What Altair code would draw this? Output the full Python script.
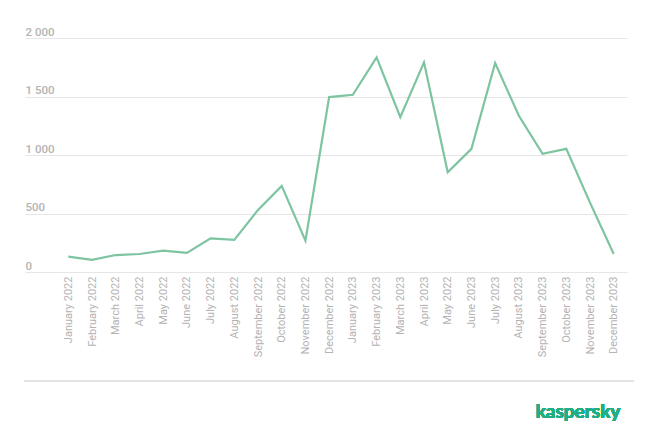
import altair as alt
import pandas as pd

months = [
    "January 2022", "February 2022", "March 2022", "April 2022", "May 2022", "June 2022",
    "July 2022", "August 2022", "September 2022", "October 2022", "November 2022", "December 2022",
    "January 2023", "February 2023", "March 2023", "April 2023", "May 2022", "June 2023",
    "July 2023", "August 2023", "September 2023", "October 2023", "November 2023", "December 2023",
]
values = [131, 103, 145, 154, 182, 163, 288, 274, 531, 736, 268, 1495,
          1515, 1834, 1324, 1792, 853, 1053, 1786, 1335, 1010, 1053, 593, 154]
y_ticks = [0, 500, 1000, 1500, 2000]

df = pd.DataFrame({"idx": list(range(len(months))), "label": months, "value": values})

label_arr = "[" + ",".join("'" + m + "'" for m in months) + "]"

W, H = 602, 234
FONT = "Roboto"
GREY = "#b3b3b3"

base = alt.Chart(df)

line = base.mark_line(color="#7dc4a0", strokeWidth=2.2).encode(
    x=alt.X(
        "idx:Q",
        scale=alt.Scale(domain=[-1.826, 23.56], nice=False, zero=False),
        axis=alt.Axis(
            values=list(range(len(months))),
            labelExpr=label_arr + "[datum.value]",
            labelAngle=-90,
            labelAlign="right",
            labelBaseline="middle",
            labelPadding=4,
            labelOverlap=False,
            labelBound=False,
            labelFlush=False,
            ticks=False,
            domain=False,
            grid=False,
            title=None,
            labelColor=GREY,
            labelFont=FONT,
            labelFontSize=11,
        ),
    ),
    y=alt.Y(
        "value:Q",
        scale=alt.Scale(domain=[0, 2000], nice=False),
        axis=alt.Axis(
            values=y_ticks,
            labelExpr="replace(format(datum.value, ',d'), ',', ' ')",
            labelAlign="left",
            labelBaseline="alphabetic",
            labelOffset=-3,
            labelPadding=0,
            tickSize=0,
            ticks=False,
            domain=False,
            grid=True,
            gridColor="#e6e6e6",
            gridWidth=1,
            title=None,
            labelColor=GREY,
            labelFont=FONT,
            labelFontSize=11.5,
            labelFontWeight=500,
        ),
    ),
)

bottom_rule = base.mark_rule(color="#e3e3e3", strokeWidth=1.5).encode(
    x=alt.value(-1), x2=alt.value(609), y=alt.value(342.7)
)

logo = base.mark_text(
    text="kaspersky", color="#22ad84", font="Lato", fontSize=19, fontWeight="bold", align="center", baseline="middle"
).encode(x=alt.value(553), y=alt.value(374))

chart = alt.layer(line, bottom_rule, logo).properties(
    width=W,
    height=H,
    background="white",
    autosize=alt.AutoSizeParams(type="none"),
    padding={"left": 25, "top": 38, "right": 33, "bottom": 176},
).configure_view(stroke=None)

chart.save("out.html", embed_options={"renderer": "svg", "actions": False})
